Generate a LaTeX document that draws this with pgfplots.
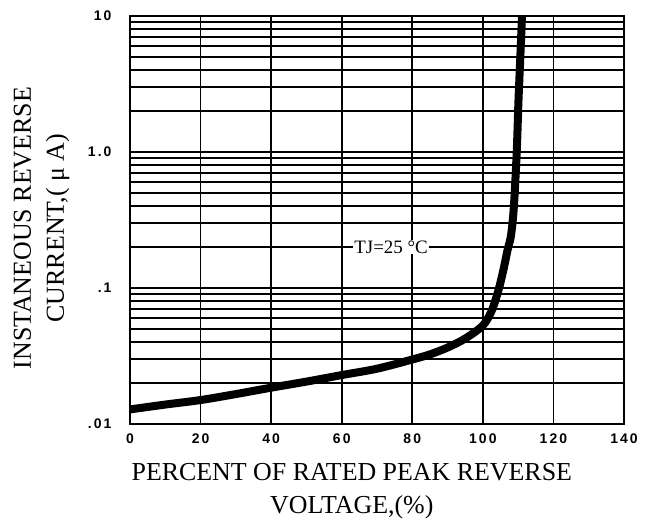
\documentclass[border=0pt]{standalone}
\usepackage{fontspec}
\setmainfont{Liberation Serif}
\newfontfamily\tickfont[LetterSpace=15]{Liberation Sans}
\usepackage{pgfplots}
\pgfplotsset{compat=1.18}

\begin{document}
\begin{tikzpicture}
\useasboundingbox (-130bp,-98bp) rectangle (515bp,424bp);
\begin{axis}[
    at={(0,0)}, anchor=south west,
    scale only axis,
    width=494bp, height=408bp,
    ymode=log,
    xmin=0, xmax=140,
    ymin=0.01, ymax=10,
    xtick={0,20,...,140},
    ytick={0.01,0.1,1,10},
    yticklabels={.01,.1,1.0,10},
    grid=both,
    major grid style={black, line width=1.6bp},
    minor grid style={black, line width=1.6bp},
    axis line style={black, line width=1.6bp},
    major tick length=0pt, minor tick length=0pt,
    /pgf/number format/assume math mode=true,
    tick label style={font=\tickfont\bfseries\fontsize{14}{16}\selectfont},
    xticklabel style={yshift=-6bp},
    yticklabel style={xshift=-15bp},
    xlabel={PERCENT OF RATED PEAK REVERSE\\VOLTAGE,(\%)},
    ylabel={INSTANEOUS REVERSE\\CURRENT,( μ A)},
    label style={font=\fontsize{26}{33}\selectfont, align=center},
    xlabel style={at={(axis description cs:0.449,-0.164)}, anchor=center},
    ylabel style={at={(axis description cs:-0.179,0.48)}, anchor=center},
]
% reverse leakage curve, TJ = 25 C
\addplot[black, line width=8bp, smooth, line join=round] coordinates {
    (0,0.0128) (10,0.0139) (20,0.0150) (30,0.0166) (40,0.0185)
    (50,0.0205) (60,0.0229) (70,0.0255) (80,0.0298) (85,0.0325)
    (90,0.0365) (95,0.0425) (100,0.053) (102.5,0.068) (104.4,0.096)
    (105.8,0.135) (107,0.19) (108,0.245) (108.8,0.40) (109.6,1.0)
    (110.1,2.4) (110.7,5.6) (111.1,10)
};
\node[fill=white, inner sep=1bp, font=\fontsize{19}{22}\selectfont]
    at (axis cs:74,0.2) {TJ=25 °C};
\end{axis}
\end{tikzpicture}
\end{document}
